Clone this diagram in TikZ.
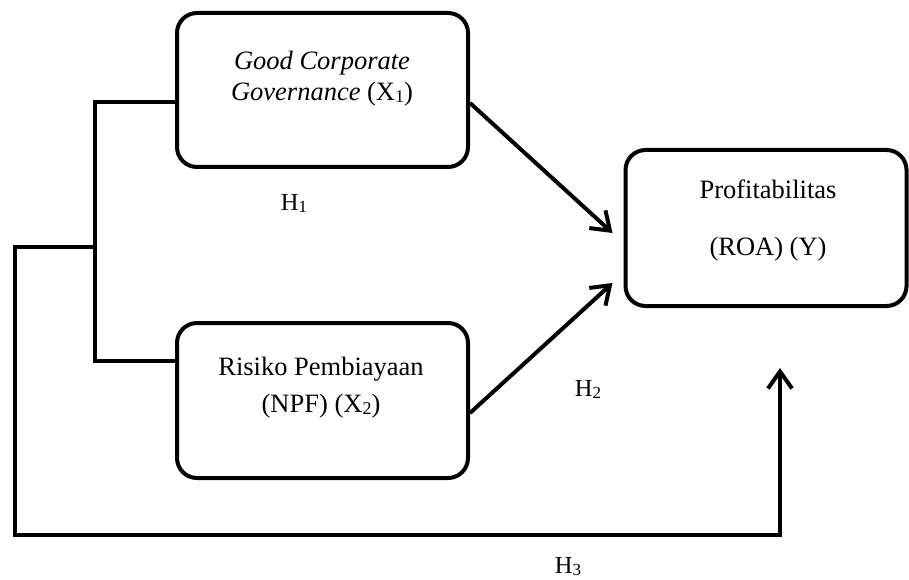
\documentclass[tikz,border=0pt]{standalone}
\usepackage{fontspec}
\setmainfont{Liberation Serif}
\usetikzlibrary{arrows.meta,calc}
\newcommand{\lsub}[1]{\raisebox{-2pt}{\fontsize{18}{18}\selectfont #1}}
\newcommand{\hsub}[1]{\raisebox{-2.5pt}{\fontsize{17}{17}\selectfont #1}}
\begin{document}
\begin{tikzpicture}[x=1pt,y=-1pt,line width=4pt,
  box/.style={draw, rounded corners=20pt, inner sep=0pt},
  lbl/.style={anchor=base, inner sep=0pt, font=\fontsize{26.5}{30}\selectfont},
  hl/.style={anchor=base, inner sep=0pt, font=\fontsize{24.5}{26}\selectfont},
  arr/.style={-{Straight Barb[length=17pt,width=24pt]}}]
\useasboundingbox (0,0) rectangle (909,580);
% boxes
\node[box, minimum width=291pt, minimum height=154pt] (b1) at (322.5,90) {};
\node[box, minimum width=291pt, minimum height=155pt] (b2) at (322.5,400.5) {};
\node[box, minimum width=281pt, minimum height=156pt] (b3) at (766,228) {};
% texts
\node[lbl] (t1a) at (322,70) {\textit{Good Corporate}};
\node[lbl] (t1b) at (322,101) {\textit{Governance} (X\lsub{1})};
\node[lbl] (t2a) at (321,375) {Risiko Pembiayaan};
\node[lbl] (t2b) at (321,412) {(NPF) (X\lsub{2})};
\node[lbl] (t3a) at (768,198) {Profitabilitas};
\node[lbl] (t3b) at (768,255) {(ROA) (Y)};
% hypothesis labels
\node[hl] (h1) at (294,210) {H\hsub{1}};
\node[hl] (h2) at (588,396) {H\hsub{2}};
\node[hl] (h3) at (568,573) {H\hsub{3}};
% connectors
\coordinate (j) at (95,247);
\coordinate (k1) at (15,535);
\coordinate (t3) at (780,368);
\draw ([yshift=-12pt]b1.west) -| (j) |- ([yshift=40pt]b2.west);
\draw[arr] (j) -| (k1) -| (t3);
\draw[arr] ([yshift=-13pt]b1.east) -- ([xshift=-11pt,yshift=-5pt]b3.west);
\draw[arr] ([yshift=-12.5pt]b2.east) -- ([xshift=-11pt,yshift=-55pt]b3.west);
\end{tikzpicture}
\end{document}
